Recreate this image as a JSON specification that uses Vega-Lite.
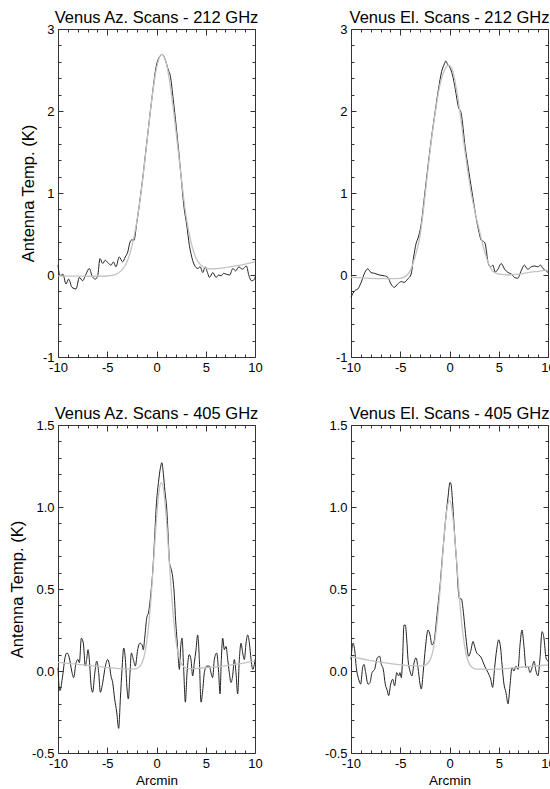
{
  "$schema": "https://vega.github.io/schema/vega-lite/v6.json",
  "padding": 9,
  "columns": 2,
  "spacing": {"row": 31, "column": 61},
  "config": {
    "font": "Liberation Sans",
    "view": {"stroke": null},
    "axis": {"grid": false, "labelFlush": false, "labelFontSize": 13, "labelFont": "Liberation Sans", "labelColor": "#000", "titleFont": "Liberation Sans", "titleFontWeight": "normal", "titleColor": "#000"},
    "title": {"font": "Liberation Sans", "fontSize": 16.5, "fontWeight": "normal", "color": "#000", "anchor": "middle", "offset": -3, "baseline": "alphabetic"}
  },
  "datasets": {
    "az212_scan": [
      {"x": -10, "t": 0.12}, {"x": -9.8, "t": -0.01}, {"x": -9.5, "t": 0.01}, {"x": -9.19, "t": -0.11}, {"x": -8.92, "t": -0.05}, {"x": -8.58, "t": -0.15}, {"x": -8.17, "t": -0.17}, {"x": -7.83, "t": -0.03}, {"x": -7.5, "t": -0.07}, {"x": -7.16, "t": 0.01}, {"x": -6.82, "t": 0.08}, {"x": -6.55, "t": -0.01}, {"x": -6.21, "t": -0.05}, {"x": -5.97, "t": -0.01}, {"x": -5.74, "t": 0.2}, {"x": -5.46, "t": 0.14}, {"x": -5.2, "t": 0.18}, {"x": -4.86, "t": 0.14}, {"x": -4.62, "t": 0.12}, {"x": -4.38, "t": 0.16}, {"x": -4.12, "t": 0.1}, {"x": -3.78, "t": 0.22}, {"x": -3.44, "t": 0.16}, {"x": -3.17, "t": 0.22}, {"x": -2.92, "t": 0.28}, {"x": -2.69, "t": 0.4}, {"x": -2.5, "t": 0.43}, {"x": -2.3, "t": 0.42}, {"x": -2.0, "t": 0.64}, {"x": -1.5, "t": 1.08}, {"x": -1.0, "t": 1.6}, {"x": -0.5, "t": 2.12}, {"x": 0.0, "t": 2.56}, {"x": 0.3, "t": 2.66}, {"x": 0.6, "t": 2.69}, {"x": 0.9, "t": 2.62}, {"x": 1.2, "t": 2.5}, {"x": 1.4, "t": 2.43}, {"x": 1.7, "t": 2.14}, {"x": 2.0, "t": 1.81}, {"x": 2.5, "t": 1.2}, {"x": 2.8, "t": 0.82}, {"x": 3.07, "t": 0.61}, {"x": 3.34, "t": 0.36}, {"x": 3.5, "t": 0.26}, {"x": 3.85, "t": 0.12}, {"x": 4.19, "t": 0.08}, {"x": 4.43, "t": 0.1}, {"x": 4.7, "t": 0.03}, {"x": 4.94, "t": 0.1}, {"x": 5.2, "t": 0.02}, {"x": 5.38, "t": -0.03}, {"x": 5.72, "t": 0.03}, {"x": 6.06, "t": -0.03}, {"x": 6.3, "t": 0.0}, {"x": 6.57, "t": -0.01}, {"x": 6.8, "t": 0.02}, {"x": 7.08, "t": 0.01}, {"x": 7.42, "t": 0.0}, {"x": 7.76, "t": 0.08}, {"x": 8.03, "t": 0.05}, {"x": 8.37, "t": 0.1}, {"x": 8.71, "t": 0.07}, {"x": 9.12, "t": 0.11}, {"x": 9.39, "t": -0.01}, {"x": 9.63, "t": -0.07}, {"x": 9.97, "t": -0.05}, {"x": 10, "t": -0.02}
    ],
    "az212_fit": [
      {"x": -10, "t": -0.01}, {"x": -9, "t": -0.013}, {"x": -8, "t": -0.014}, {"x": -7, "t": -0.015}, {"x": -6, "t": -0.015}, {"x": -5, "t": -0.012}, {"x": -4.5, "t": -0.005}, {"x": -4, "t": 0.015}, {"x": -3.5, "t": 0.062}, {"x": -3, "t": 0.16}, {"x": -2.5, "t": 0.35}, {"x": -2, "t": 0.65}, {"x": -1.5, "t": 1.07}, {"x": -1, "t": 1.59}, {"x": -0.5, "t": 2.12}, {"x": 0, "t": 2.52}, {"x": 0.5, "t": 2.69}, {"x": 1, "t": 2.58}, {"x": 1.5, "t": 2.22}, {"x": 2, "t": 1.73}, {"x": 2.5, "t": 1.2}, {"x": 3, "t": 0.72}, {"x": 3.5, "t": 0.4}, {"x": 4, "t": 0.21}, {"x": 4.5, "t": 0.12}, {"x": 5, "t": 0.085}, {"x": 5.5, "t": 0.075}, {"x": 6, "t": 0.076}, {"x": 7, "t": 0.09}, {"x": 8, "t": 0.11}, {"x": 9, "t": 0.133}, {"x": 10, "t": 0.16}
    ],
    "el212_scan": [
      {"x": -10, "t": -0.27}, {"x": -9.6, "t": -0.19}, {"x": -9.3, "t": -0.17}, {"x": -8.97, "t": -0.09}, {"x": -8.6, "t": 0.03}, {"x": -8.3, "t": 0.075}, {"x": -7.97, "t": 0.03}, {"x": -7.6, "t": 0.02}, {"x": -7.12, "t": 0.0}, {"x": -6.6, "t": -0.01}, {"x": -6.25, "t": -0.03}, {"x": -5.94, "t": -0.11}, {"x": -5.6, "t": -0.15}, {"x": -5.26, "t": -0.11}, {"x": -4.9, "t": -0.08}, {"x": -4.6, "t": -0.09}, {"x": -4.25, "t": -0.05}, {"x": -3.9, "t": 0.01}, {"x": -3.64, "t": 0.22}, {"x": -3.4, "t": 0.38}, {"x": -3.17, "t": 0.46}, {"x": -2.9, "t": 0.6}, {"x": -2.5, "t": 1.0}, {"x": -2.15, "t": 1.36}, {"x": -1.8, "t": 1.7}, {"x": -1.47, "t": 1.98}, {"x": -1.1, "t": 2.28}, {"x": -0.8, "t": 2.48}, {"x": -0.5, "t": 2.58}, {"x": -0.39, "t": 2.61}, {"x": -0.2, "t": 2.57}, {"x": 0.0, "t": 2.54}, {"x": 0.3, "t": 2.44}, {"x": 0.6, "t": 2.26}, {"x": 0.9, "t": 2.05}, {"x": 1.17, "t": 1.98}, {"x": 1.6, "t": 1.55}, {"x": 1.91, "t": 1.3}, {"x": 2.3, "t": 1.0}, {"x": 2.7, "t": 0.7}, {"x": 3.0, "t": 0.52}, {"x": 3.24, "t": 0.42}, {"x": 3.45, "t": 0.41}, {"x": 3.6, "t": 0.39}, {"x": 3.74, "t": 0.3}, {"x": 3.9, "t": 0.16}, {"x": 4.17, "t": 0.1}, {"x": 4.4, "t": 0.12}, {"x": 4.64, "t": 0.035}, {"x": 4.91, "t": 0.07}, {"x": 5.25, "t": 0.14}, {"x": 5.6, "t": 0.07}, {"x": 5.95, "t": 0.03}, {"x": 6.3, "t": 0.01}, {"x": 6.6, "t": -0.03}, {"x": 6.93, "t": -0.04}, {"x": 7.27, "t": 0.05}, {"x": 7.6, "t": 0.12}, {"x": 7.94, "t": 0.07}, {"x": 8.3, "t": 0.1}, {"x": 8.64, "t": 0.11}, {"x": 8.97, "t": 0.1}, {"x": 9.24, "t": 0.12}, {"x": 9.48, "t": 0.08}, {"x": 9.82, "t": 0.05}, {"x": 10, "t": 0.03}
    ],
    "el212_fit": [
      {"x": -10, "t": -0.03}, {"x": -8, "t": -0.04}, {"x": -6, "t": -0.045}, {"x": -5, "t": -0.04}, {"x": -4.5, "t": -0.02}, {"x": -4, "t": 0.05}, {"x": -3.5, "t": 0.22}, {"x": -3.0, "t": 0.47}, {"x": -2.5, "t": 0.95}, {"x": -2.15, "t": 1.33}, {"x": -1.8, "t": 1.68}, {"x": -1.47, "t": 1.96}, {"x": -1.0, "t": 2.3}, {"x": -0.5, "t": 2.5}, {"x": -0.1, "t": 2.56}, {"x": 0.3, "t": 2.5}, {"x": 0.7, "t": 2.27}, {"x": 1.07, "t": 1.98}, {"x": 1.4, "t": 1.66}, {"x": 1.74, "t": 1.36}, {"x": 2.2, "t": 1.0}, {"x": 2.6, "t": 0.76}, {"x": 3.0, "t": 0.56}, {"x": 3.4, "t": 0.36}, {"x": 3.9, "t": 0.16}, {"x": 4.3, "t": 0.06}, {"x": 4.6, "t": 0.03}, {"x": 5, "t": 0.01}, {"x": 6, "t": 0.0}, {"x": 7, "t": 0.01}, {"x": 8, "t": 0.03}, {"x": 9, "t": 0.045}, {"x": 10, "t": 0.06}
    ],
    "az405_scan": [
      {"x": -10, "t": 0.02}, {"x": -9.9, "t": -0.09}, {"x": -9.8, "t": -0.12}, {"x": -9.53, "t": -0.03}, {"x": -9.26, "t": 0.09}, {"x": -9.09, "t": 0.11}, {"x": -8.85, "t": 0.08}, {"x": -8.61, "t": 0.0}, {"x": -8.41, "t": -0.04}, {"x": -8.17, "t": 0.05}, {"x": -7.97, "t": 0.07}, {"x": -7.83, "t": 0.05}, {"x": -7.63, "t": 0.2}, {"x": -7.43, "t": 0.17}, {"x": -7.23, "t": 0.03}, {"x": -7.09, "t": 0.07}, {"x": -6.95, "t": 0.13}, {"x": -6.82, "t": 0.07}, {"x": -6.62, "t": -0.1}, {"x": -6.48, "t": -0.13}, {"x": -6.28, "t": -0.02}, {"x": -6.07, "t": 0.06}, {"x": -5.87, "t": -0.01}, {"x": -5.7, "t": -0.13}, {"x": -5.46, "t": -0.07}, {"x": -5.19, "t": 0.03}, {"x": -4.96, "t": 0.07}, {"x": -4.79, "t": 0.04}, {"x": -4.62, "t": -0.03}, {"x": -4.45, "t": -0.07}, {"x": -4.25, "t": -0.17}, {"x": -4.04, "t": -0.25}, {"x": -3.84, "t": -0.35}, {"x": -3.67, "t": -0.17}, {"x": -3.5, "t": 0.01}, {"x": -3.33, "t": 0.14}, {"x": -3.16, "t": 0.07}, {"x": -2.99, "t": -0.11}, {"x": -2.86, "t": -0.17}, {"x": -2.69, "t": -0.01}, {"x": -2.55, "t": 0.11}, {"x": -2.35, "t": 0.07}, {"x": -2.15, "t": 0.03}, {"x": -1.91, "t": 0.13}, {"x": -1.68, "t": 0.17}, {"x": -1.47, "t": 0.16}, {"x": -1.34, "t": 0.13}, {"x": -1.2, "t": 0.2}, {"x": -1.0, "t": 0.32}, {"x": -0.8, "t": 0.36}, {"x": -0.56, "t": 0.48}, {"x": -0.39, "t": 0.6}, {"x": -0.2, "t": 0.8}, {"x": -0.03, "t": 1.0}, {"x": 0.2, "t": 1.15}, {"x": 0.4, "t": 1.24}, {"x": 0.54, "t": 1.27}, {"x": 0.7, "t": 1.2}, {"x": 0.85, "t": 1.1}, {"x": 1.05, "t": 0.98}, {"x": 1.2, "t": 0.8}, {"x": 1.32, "t": 0.66}, {"x": 1.5, "t": 0.62}, {"x": 1.65, "t": 0.57}, {"x": 1.8, "t": 0.47}, {"x": 1.95, "t": 0.3}, {"x": 2.05, "t": 0.22}, {"x": 2.18, "t": 0.11}, {"x": 2.32, "t": 0.01}, {"x": 2.46, "t": 0.15}, {"x": 2.59, "t": 0.2}, {"x": 2.76, "t": 0.01}, {"x": 2.93, "t": -0.19}, {"x": 3.1, "t": -0.01}, {"x": 3.33, "t": 0.1}, {"x": 3.5, "t": 0.07}, {"x": 3.67, "t": -0.03}, {"x": 3.84, "t": 0.05}, {"x": 4.01, "t": 0.13}, {"x": 4.18, "t": 0.22}, {"x": 4.35, "t": 0.07}, {"x": 4.52, "t": -0.19}, {"x": 4.69, "t": -0.12}, {"x": 4.86, "t": -0.01}, {"x": 5.1, "t": 0.03}, {"x": 5.37, "t": 0.03}, {"x": 5.53, "t": -0.01}, {"x": 5.7, "t": -0.04}, {"x": 5.87, "t": 0.07}, {"x": 6.11, "t": 0.11}, {"x": 6.31, "t": -0.01}, {"x": 6.45, "t": -0.14}, {"x": 6.58, "t": 0.07}, {"x": 6.72, "t": 0.2}, {"x": 6.89, "t": 0.13}, {"x": 7.06, "t": 0.15}, {"x": 7.23, "t": 0.07}, {"x": 7.39, "t": -0.01}, {"x": 7.56, "t": -0.07}, {"x": 7.73, "t": -0.03}, {"x": 7.9, "t": 0.07}, {"x": 8.07, "t": -0.01}, {"x": 8.24, "t": -0.14}, {"x": 8.41, "t": 0.07}, {"x": 8.58, "t": 0.17}, {"x": 8.75, "t": 0.11}, {"x": 8.92, "t": 0.07}, {"x": 9.09, "t": 0.17}, {"x": 9.26, "t": 0.22}, {"x": 9.43, "t": 0.17}, {"x": 9.6, "t": 0.07}, {"x": 9.77, "t": 0.01}, {"x": 9.93, "t": 0.04}, {"x": 10, "t": 0.07}
    ],
    "az405_fit": [
      {"x": -10, "t": 0.053}, {"x": -8, "t": 0.04}, {"x": -6, "t": 0.028}, {"x": -4, "t": 0.016}, {"x": -3, "t": 0.012}, {"x": -2.5, "t": 0.012}, {"x": -2, "t": 0.016}, {"x": -1.75, "t": 0.025}, {"x": -1.5, "t": 0.046}, {"x": -1.25, "t": 0.09}, {"x": -1, "t": 0.173}, {"x": -0.75, "t": 0.305}, {"x": -0.5, "t": 0.49}, {"x": -0.25, "t": 0.71}, {"x": 0, "t": 0.928}, {"x": 0.25, "t": 1.09}, {"x": 0.5, "t": 1.15}, {"x": 0.75, "t": 1.09}, {"x": 1, "t": 0.93}, {"x": 1.25, "t": 0.71}, {"x": 1.5, "t": 0.49}, {"x": 1.75, "t": 0.307}, {"x": 2, "t": 0.175}, {"x": 2.25, "t": 0.092}, {"x": 2.5, "t": 0.048}, {"x": 2.75, "t": 0.027}, {"x": 3, "t": 0.018}, {"x": 3.5, "t": 0.014}, {"x": 4, "t": 0.015}, {"x": 5, "t": 0.02}, {"x": 6, "t": 0.025}, {"x": 8, "t": 0.04}, {"x": 10, "t": 0.06}
    ],
    "el405_scan": [
      {"x": -10, "t": 0.07}, {"x": -9.8, "t": 0.17}, {"x": -9.63, "t": 0.13}, {"x": -9.46, "t": 0.02}, {"x": -9.22, "t": -0.05}, {"x": -9.02, "t": -0.08}, {"x": -8.82, "t": 0.02}, {"x": -8.68, "t": 0.04}, {"x": -8.51, "t": -0.01}, {"x": -8.27, "t": -0.08}, {"x": -8.07, "t": -0.07}, {"x": -7.87, "t": -0.01}, {"x": -7.6, "t": 0.01}, {"x": -7.33, "t": 0.08}, {"x": -7.09, "t": 0.09}, {"x": -6.92, "t": 0.04}, {"x": -6.72, "t": 0.01}, {"x": -6.52, "t": -0.08}, {"x": -6.31, "t": -0.12}, {"x": -6.18, "t": -0.15}, {"x": -5.97, "t": -0.08}, {"x": -5.77, "t": -0.05}, {"x": -5.57, "t": -0.09}, {"x": -5.36, "t": -0.01}, {"x": -5.16, "t": -0.03}, {"x": -5.03, "t": -0.01}, {"x": -4.89, "t": -0.04}, {"x": -4.76, "t": 0.08}, {"x": -4.62, "t": 0.28}, {"x": -4.48, "t": 0.28}, {"x": -4.35, "t": 0.2}, {"x": -4.21, "t": 0.07}, {"x": -4.01, "t": 0.0}, {"x": -3.81, "t": -0.03}, {"x": -3.6, "t": 0.05}, {"x": -3.4, "t": 0.08}, {"x": -3.2, "t": 0.02}, {"x": -2.99, "t": -0.08}, {"x": -2.86, "t": -0.11}, {"x": -2.66, "t": 0.0}, {"x": -2.45, "t": 0.14}, {"x": -2.18, "t": 0.25}, {"x": -1.98, "t": 0.22}, {"x": -1.78, "t": 0.16}, {"x": -1.57, "t": 0.18}, {"x": -1.37, "t": 0.28}, {"x": -1.17, "t": 0.4}, {"x": -0.96, "t": 0.52}, {"x": -0.76, "t": 0.67}, {"x": -0.55, "t": 0.82}, {"x": -0.35, "t": 0.95}, {"x": -0.15, "t": 1.06}, {"x": 0.05, "t": 1.15}, {"x": 0.15, "t": 1.14}, {"x": 0.3, "t": 1.04}, {"x": 0.45, "t": 0.9}, {"x": 0.6, "t": 0.76}, {"x": 0.75, "t": 0.64}, {"x": 0.86, "t": 0.52}, {"x": 1.03, "t": 0.44}, {"x": 1.2, "t": 0.44}, {"x": 1.37, "t": 0.38}, {"x": 1.54, "t": 0.28}, {"x": 1.71, "t": 0.18}, {"x": 1.95, "t": 0.09}, {"x": 2.15, "t": 0.12}, {"x": 2.39, "t": 0.18}, {"x": 2.55, "t": 0.15}, {"x": 2.76, "t": 0.11}, {"x": 2.96, "t": 0.1}, {"x": 3.23, "t": 0.08}, {"x": 3.57, "t": 0.03}, {"x": 3.91, "t": -0.01}, {"x": 4.18, "t": -0.05}, {"x": 4.38, "t": -0.1}, {"x": 4.58, "t": 0.02}, {"x": 4.79, "t": 0.13}, {"x": 4.99, "t": 0.19}, {"x": 5.19, "t": 0.14}, {"x": 5.33, "t": 0.04}, {"x": 5.53, "t": -0.08}, {"x": 5.73, "t": -0.13}, {"x": 5.94, "t": -0.2}, {"x": 6.14, "t": -0.09}, {"x": 6.34, "t": 0.02}, {"x": 6.55, "t": 0.0}, {"x": 6.75, "t": 0.03}, {"x": 6.95, "t": 0.01}, {"x": 7.16, "t": 0.16}, {"x": 7.36, "t": 0.25}, {"x": 7.56, "t": 0.15}, {"x": 7.77, "t": 0.02}, {"x": 7.97, "t": 0.03}, {"x": 8.17, "t": -0.01}, {"x": 8.38, "t": 0.02}, {"x": 8.58, "t": 0.06}, {"x": 8.78, "t": 0.0}, {"x": 8.98, "t": -0.03}, {"x": 9.19, "t": 0.08}, {"x": 9.39, "t": 0.24}, {"x": 9.59, "t": 0.2}, {"x": 9.8, "t": 0.08}, {"x": 10, "t": 0.06}
    ],
    "el405_fit": [
      {"x": -10, "t": 0.087}, {"x": -8, "t": 0.063}, {"x": -6, "t": 0.045}, {"x": -4, "t": 0.033}, {"x": -3, "t": 0.031}, {"x": -2.5, "t": 0.035}, {"x": -2, "t": 0.065}, {"x": -1.75, "t": 0.105}, {"x": -1.5, "t": 0.18}, {"x": -1.25, "t": 0.3}, {"x": -1, "t": 0.465}, {"x": -0.75, "t": 0.66}, {"x": -0.5, "t": 0.85}, {"x": -0.25, "t": 0.99}, {"x": 0, "t": 1.04}, {"x": 0.25, "t": 0.985}, {"x": 0.5, "t": 0.84}, {"x": 0.75, "t": 0.65}, {"x": 1, "t": 0.455}, {"x": 1.25, "t": 0.288}, {"x": 1.5, "t": 0.165}, {"x": 1.75, "t": 0.087}, {"x": 2, "t": 0.045}, {"x": 2.25, "t": 0.024}, {"x": 2.5, "t": 0.015}, {"x": 3, "t": 0.011}, {"x": 4, "t": 0.01}, {"x": 5, "t": 0.011}, {"x": 6.6, "t": 0.02}, {"x": 8, "t": 0.027}, {"x": 10, "t": 0.037}
    ]
  },
  "concat": [
    {
      "width": 197, "height": 328,
      "title": "Venus Az. Scans - 212 GHz",
      "resolve": {"axis": {"x": "independent", "y": "independent"}},
      "layer": [
        {
          "data": {"name": "az212_scan"},
          "mark": {"type": "line", "color": "#222", "strokeWidth": 1, "interpolate": "monotone"},
          "encoding": {
            "x": {"field": "x", "type": "quantitative", "scale": {"domain": [-10, 10], "nice": false},
              "axis": {"orient": "bottom", "values": [-10, -5, 0, 5, 10], "tickSize": -6, "tickColor": "#333", "domainColor": "#333", "labelExpr": "datum.value < 0 ? '-' + abs(datum.value) : '' + datum.value", "labelPadding": 10, "title": null}},
            "y": {"field": "t", "type": "quantitative", "scale": {"domain": [-1, 3], "nice": false},
              "axis": {"orient": "left", "values": [-1, 0, 1, 2, 3], "tickSize": -5, "tickColor": "#333", "domainColor": "#333", "labelExpr": "(datum.value < 0 ? '-' : '') + format(abs(datum.value), 'd')", "labelPadding": 9, "title": "Antenna Temp. (K)", "titleFontSize": 16.5, "titlePadding": 6}}
          }
        },
        {
          "data": {"name": "az212_scan"},
          "mark": {"type": "line", "strokeOpacity": 0},
          "encoding": {
            "x": {"field": "x", "type": "quantitative", "axis": {"orient": "bottom", "values": [-9,-8,-7,-6,-4,-3,-2,-1,1,2,3,4,6,7,8,9], "tickSize": -3, "tickColor": "#333", "labels": false, "domain": false, "title": null}},
            "y": {"field": "t", "type": "quantitative", "axis": {"orient": "left", "values": [-0.8,-0.6,-0.4,-0.2,0.2,0.4,0.6,0.8,1.2,1.4,1.6,1.8,2.2,2.4,2.6,2.8], "tickSize": -3, "tickColor": "#333", "labels": false, "domain": false, "title": null}}
          }
        },
        {
          "data": {"name": "az212_fit"},
          "mark": {"type": "line", "color": "#c3c3c3", "strokeWidth": 1.3, "interpolate": "monotone"},
          "encoding": {
            "x": {"field": "x", "type": "quantitative", "axis": {"orient": "top", "values": [-10, -5, 0, 5, 10], "tickSize": -6, "tickColor": "#333", "domainColor": "#333", "labels": false, "title": null}},
            "y": {"field": "t", "type": "quantitative", "axis": {"orient": "right", "values": [-1, 0, 1, 2, 3], "tickSize": -5, "tickColor": "#333", "domainColor": "#333", "labels": false, "title": null}}
          }
        },
        {
          "data": {"name": "az212_fit"},
          "mark": {"type": "line", "strokeOpacity": 0},
          "encoding": {
            "x": {"field": "x", "type": "quantitative", "axis": {"orient": "top", "values": [-9,-8,-7,-6,-4,-3,-2,-1,1,2,3,4,6,7,8,9], "tickSize": -3, "tickColor": "#333", "labels": false, "domain": false, "title": null}},
            "y": {"field": "t", "type": "quantitative", "axis": {"orient": "right", "values": [-0.8,-0.6,-0.4,-0.2,0.2,0.4,0.6,0.8,1.2,1.4,1.6,1.8,2.2,2.4,2.6,2.8], "tickSize": -3, "tickColor": "#333", "labels": false, "domain": false, "title": null}}
          }
        }
      ]
    },
    {
      "width": 197, "height": 328,
      "title": "Venus El. Scans - 212 GHz",
      "resolve": {"axis": {"x": "independent", "y": "independent"}},
      "layer": [
        {
          "data": {"name": "el212_scan"},
          "mark": {"type": "line", "color": "#222", "strokeWidth": 1, "interpolate": "monotone"},
          "encoding": {
            "x": {"field": "x", "type": "quantitative", "scale": {"domain": [-10, 10], "nice": false},
              "axis": {"orient": "bottom", "values": [-10, -5, 0, 5, 10], "tickSize": -6, "tickColor": "#333", "domainColor": "#333", "labelExpr": "datum.value < 0 ? '-' + abs(datum.value) : '' + datum.value", "labelPadding": 10, "title": null}},
            "y": {"field": "t", "type": "quantitative", "scale": {"domain": [-1, 3], "nice": false},
              "axis": {"orient": "left", "values": [-1, 0, 1, 2, 3], "tickSize": -5, "tickColor": "#333", "domainColor": "#333", "labelExpr": "(datum.value < 0 ? '-' : '') + format(abs(datum.value), 'd')", "labelPadding": 9, "title": null}}
          }
        },
        {
          "data": {"name": "el212_scan"},
          "mark": {"type": "line", "strokeOpacity": 0},
          "encoding": {
            "x": {"field": "x", "type": "quantitative", "axis": {"orient": "bottom", "values": [-9,-8,-7,-6,-4,-3,-2,-1,1,2,3,4,6,7,8,9], "tickSize": -3, "tickColor": "#333", "labels": false, "domain": false, "title": null}},
            "y": {"field": "t", "type": "quantitative", "axis": {"orient": "left", "values": [-0.8,-0.6,-0.4,-0.2,0.2,0.4,0.6,0.8,1.2,1.4,1.6,1.8,2.2,2.4,2.6,2.8], "tickSize": -3, "tickColor": "#333", "labels": false, "domain": false, "title": null}}
          }
        },
        {
          "data": {"name": "el212_fit"},
          "mark": {"type": "line", "color": "#c3c3c3", "strokeWidth": 1.3, "interpolate": "monotone"},
          "encoding": {
            "x": {"field": "x", "type": "quantitative", "axis": {"orient": "top", "values": [-10, -5, 0, 5, 10], "tickSize": -6, "tickColor": "#333", "domainColor": "#333", "labels": false, "title": null}},
            "y": {"field": "t", "type": "quantitative", "axis": {"orient": "right", "values": [-1, 0, 1, 2, 3], "tickSize": -5, "tickColor": "#333", "domainColor": "#333", "labels": false, "title": null}}
          }
        },
        {
          "data": {"name": "el212_fit"},
          "mark": {"type": "line", "strokeOpacity": 0},
          "encoding": {
            "x": {"field": "x", "type": "quantitative", "axis": {"orient": "top", "values": [-9,-8,-7,-6,-4,-3,-2,-1,1,2,3,4,6,7,8,9], "tickSize": -3, "tickColor": "#333", "labels": false, "domain": false, "title": null}},
            "y": {"field": "t", "type": "quantitative", "axis": {"orient": "right", "values": [-0.8,-0.6,-0.4,-0.2,0.2,0.4,0.6,0.8,1.2,1.4,1.6,1.8,2.2,2.4,2.6,2.8], "tickSize": -3, "tickColor": "#333", "labels": false, "domain": false, "title": null}}
          }
        }
      ]
    },
    {
      "width": 197, "height": 328,
      "title": "Venus Az. Scans - 405 GHz",
      "resolve": {"axis": {"x": "independent", "y": "independent"}},
      "layer": [
        {
          "data": {"name": "az405_scan"},
          "mark": {"type": "line", "color": "#222", "strokeWidth": 1, "interpolate": "monotone"},
          "encoding": {
            "x": {"field": "x", "type": "quantitative", "scale": {"domain": [-10, 10], "nice": false},
              "axis": {"orient": "bottom", "values": [-10, -5, 0, 5, 10], "tickSize": -6, "tickColor": "#333", "domainColor": "#333", "labelExpr": "datum.value < 0 ? '-' + abs(datum.value) : '' + datum.value", "labelPadding": 10, "title": "Arcmin", "titleFontSize": 13.5, "titlePadding": 3}},
            "y": {"field": "t", "type": "quantitative", "scale": {"domain": [-0.5, 1.5], "nice": false},
              "axis": {"orient": "left", "values": [-0.5, 0, 0.5, 1, 1.5], "tickSize": -5, "tickColor": "#333", "domainColor": "#333", "labelExpr": "(datum.value < 0 ? '-' : '') + format(abs(datum.value), '.1f')", "labelPadding": 9, "title": "Antenna Temp. (K)", "titleFontSize": 16.5, "titlePadding": 6}}
          }
        },
        {
          "data": {"name": "az405_scan"},
          "mark": {"type": "line", "strokeOpacity": 0},
          "encoding": {
            "x": {"field": "x", "type": "quantitative", "axis": {"orient": "bottom", "values": [-9,-8,-7,-6,-4,-3,-2,-1,1,2,3,4,6,7,8,9], "tickSize": -3, "tickColor": "#333", "labels": false, "domain": false, "title": null}},
            "y": {"field": "t", "type": "quantitative", "axis": {"orient": "left", "values": [-0.4,-0.3,-0.2,-0.1,0.1,0.2,0.3,0.4,0.6,0.7,0.8,0.9,1.1,1.2,1.3,1.4], "tickSize": -3, "tickColor": "#333", "labels": false, "domain": false, "title": null}}
          }
        },
        {
          "data": {"name": "az405_fit"},
          "mark": {"type": "line", "color": "#c3c3c3", "strokeWidth": 1.3, "interpolate": "monotone"},
          "encoding": {
            "x": {"field": "x", "type": "quantitative", "axis": {"orient": "top", "values": [-10, -5, 0, 5, 10], "tickSize": -6, "tickColor": "#333", "domainColor": "#333", "labels": false, "title": null}},
            "y": {"field": "t", "type": "quantitative", "axis": {"orient": "right", "values": [-0.5, 0, 0.5, 1, 1.5], "tickSize": -5, "tickColor": "#333", "domainColor": "#333", "labels": false, "title": null}}
          }
        },
        {
          "data": {"name": "az405_fit"},
          "mark": {"type": "line", "strokeOpacity": 0},
          "encoding": {
            "x": {"field": "x", "type": "quantitative", "axis": {"orient": "top", "values": [-9,-8,-7,-6,-4,-3,-2,-1,1,2,3,4,6,7,8,9], "tickSize": -3, "tickColor": "#333", "labels": false, "domain": false, "title": null}},
            "y": {"field": "t", "type": "quantitative", "axis": {"orient": "right", "values": [-0.4,-0.3,-0.2,-0.1,0.1,0.2,0.3,0.4,0.6,0.7,0.8,0.9,1.1,1.2,1.3,1.4], "tickSize": -3, "tickColor": "#333", "labels": false, "domain": false, "title": null}}
          }
        }
      ]
    },
    {
      "width": 197, "height": 328,
      "title": "Venus El. Scans - 405 GHz",
      "resolve": {"axis": {"x": "independent", "y": "independent"}},
      "layer": [
        {
          "data": {"name": "el405_scan"},
          "mark": {"type": "line", "color": "#222", "strokeWidth": 1, "interpolate": "monotone"},
          "encoding": {
            "x": {"field": "x", "type": "quantitative", "scale": {"domain": [-10, 10], "nice": false},
              "axis": {"orient": "bottom", "values": [-10, -5, 0, 5, 10], "tickSize": -6, "tickColor": "#333", "domainColor": "#333", "labelExpr": "datum.value < 0 ? '-' + abs(datum.value) : '' + datum.value", "labelPadding": 10, "title": "Arcmin", "titleFontSize": 13.5, "titlePadding": 3}},
            "y": {"field": "t", "type": "quantitative", "scale": {"domain": [-0.5, 1.5], "nice": false},
              "axis": {"orient": "left", "values": [-0.5, 0, 0.5, 1, 1.5], "tickSize": -5, "tickColor": "#333", "domainColor": "#333", "labelExpr": "(datum.value < 0 ? '-' : '') + format(abs(datum.value), '.1f')", "labelPadding": 9, "title": null}}
          }
        },
        {
          "data": {"name": "el405_scan"},
          "mark": {"type": "line", "strokeOpacity": 0},
          "encoding": {
            "x": {"field": "x", "type": "quantitative", "axis": {"orient": "bottom", "values": [-9,-8,-7,-6,-4,-3,-2,-1,1,2,3,4,6,7,8,9], "tickSize": -3, "tickColor": "#333", "labels": false, "domain": false, "title": null}},
            "y": {"field": "t", "type": "quantitative", "axis": {"orient": "left", "values": [-0.4,-0.3,-0.2,-0.1,0.1,0.2,0.3,0.4,0.6,0.7,0.8,0.9,1.1,1.2,1.3,1.4], "tickSize": -3, "tickColor": "#333", "labels": false, "domain": false, "title": null}}
          }
        },
        {
          "data": {"name": "el405_fit"},
          "mark": {"type": "line", "color": "#c3c3c3", "strokeWidth": 1.3, "interpolate": "monotone"},
          "encoding": {
            "x": {"field": "x", "type": "quantitative", "axis": {"orient": "top", "values": [-10, -5, 0, 5, 10], "tickSize": -6, "tickColor": "#333", "domainColor": "#333", "labels": false, "title": null}},
            "y": {"field": "t", "type": "quantitative", "axis": {"orient": "right", "values": [-0.5, 0, 0.5, 1, 1.5], "tickSize": -5, "tickColor": "#333", "domainColor": "#333", "labels": false, "title": null}}
          }
        },
        {
          "data": {"name": "el405_fit"},
          "mark": {"type": "line", "strokeOpacity": 0},
          "encoding": {
            "x": {"field": "x", "type": "quantitative", "axis": {"orient": "top", "values": [-9,-8,-7,-6,-4,-3,-2,-1,1,2,3,4,6,7,8,9], "tickSize": -3, "tickColor": "#333", "labels": false, "domain": false, "title": null}},
            "y": {"field": "t", "type": "quantitative", "axis": {"orient": "right", "values": [-0.4,-0.3,-0.2,-0.1,0.1,0.2,0.3,0.4,0.6,0.7,0.8,0.9,1.1,1.2,1.3,1.4], "tickSize": -3, "tickColor": "#333", "labels": false, "domain": false, "title": null}}
          }
        }
      ]
    }
  ]
}
